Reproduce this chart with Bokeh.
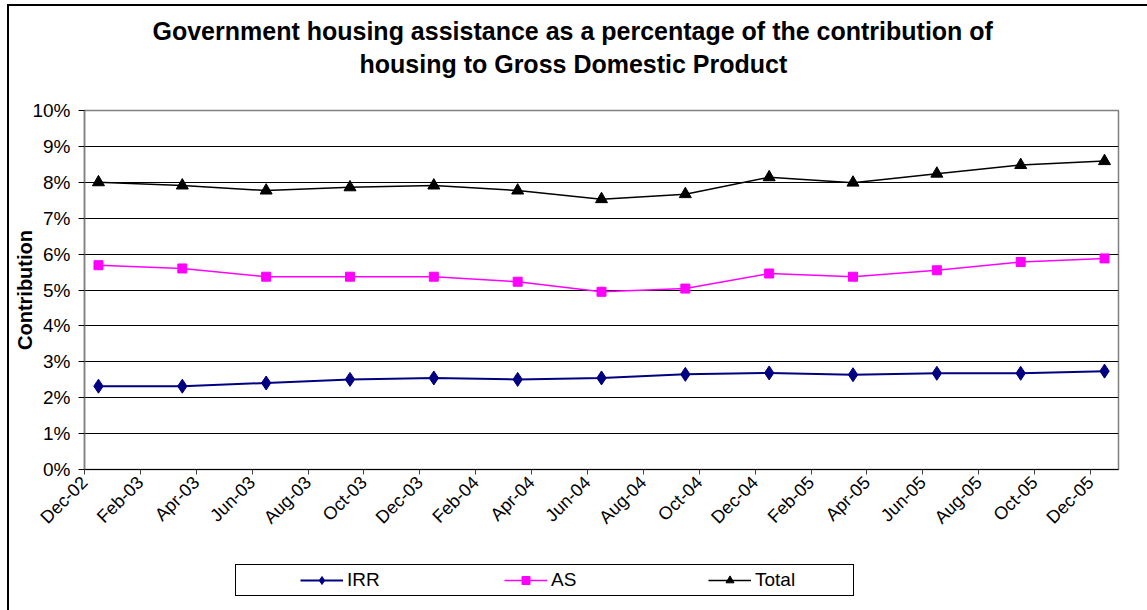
import pandas as pd
from bokeh.plotting import figure
from bokeh.layouts import column, row
from bokeh.models import (Range1d, FixedTicker, NumeralTickFormatter, Title, Legend,
                          LegendItem, Spacer)
from bokeh.embed import file_html
from bokeh.resources import INLINE

# ---------------- data ----------------
quarters = ["Dec-02", "Mar-03", "Jun-03", "Sep-03", "Dec-03", "Mar-04", "Jun-04",
            "Sep-04", "Dec-04", "Mar-05", "Jun-05", "Sep-05", "Dec-05"]
irr = [0.0232, 0.0232, 0.0241, 0.0251, 0.0255, 0.0251, 0.0255, 0.0265, 0.0269,
       0.0264, 0.0268, 0.0268, 0.0274]
as_ = [0.0569, 0.0560, 0.0537, 0.0537, 0.0537, 0.0523, 0.0495, 0.0504, 0.0546,
       0.0537, 0.0555, 0.0578, 0.0588]
total = [0.0800, 0.0791, 0.0777, 0.0786, 0.0791, 0.0777, 0.0753, 0.0767, 0.0814,
         0.0799, 0.0824, 0.0848, 0.0859]
tick_labels = ["Dec-02", "Feb-03", "Apr-03", "Jun-03", "Aug-03", "Oct-03", "Dec-03",
               "Feb-04", "Apr-04", "Jun-04", "Aug-04", "Oct-04", "Dec-04", "Feb-05",
               "Apr-05", "Jun-05", "Aug-05", "Oct-05", "Dec-05"]
y_ticks = [0.00, 0.01, 0.02, 0.03, 0.04, 0.05, 0.06, 0.07, 0.08, 0.09, 0.10]
series_names = ["IRR", "AS", "Total"]

# month-slot axis (Excel date axis with month base unit)
start = pd.to_datetime(quarters[0], format="%b-%y")
def month_index(s):
    d = pd.to_datetime(s, format="%b-%y")
    return (d.year - start.year) * 12 + d.month - start.month

x = [month_index(q) + 0.5 for q in quarters]
tick_pos = [month_index(t) for t in tick_labels]
n_months = month_index(quarters[-1]) + 1

FONT = "Liberation Sans"
C_IRR, C_AS, C_TOT = "#000080", "#FF00FF", "#000000"

p = figure(width=1138, height=554, output_backend="svg", toolbar_location=None,
           x_range=Range1d(0, n_months), y_range=Range1d(0, 0.10),
           min_border_left=75, min_border_right=29, min_border_top=104,
           min_border_bottom=91, background_fill_color="white",
           border_fill_color="white")
p.title = None

# titles: spacer nearest the frame, then line 2, then line 1
spacer = Title(text="\u00a0", text_font_size="1px", standoff=27)
t2 = Title(text="housing to Gross Domestic Product", align="left",
           text_font=FONT, text_font_size="25px", text_font_style="bold",
           text_color="black", offset=275, standoff=6)
t1 = Title(text="Government housing assistance as a percentage of the contribution of",
           align="left", text_font=FONT, text_font_size="25px",
           text_font_style="bold", text_color="black", offset=68, standoff=0)
p.add_layout(spacer, "above")
p.add_layout(t2, "above")
p.add_layout(t1, "above")

p.outline_line_color = "#808080"
p.outline_line_width = 1.5

# axes
p.xaxis.ticker = FixedTicker(ticks=tick_pos)
p.xaxis.major_label_overrides = {tp: lab for tp, lab in zip(tick_pos, tick_labels)}
p.xaxis.major_label_orientation = 0.785398
p.xaxis.major_label_text_font = FONT
p.xaxis.major_label_text_font_size = "18px"
p.xaxis.major_label_text_color = "black"
p.xaxis.minor_tick_line_color = None
p.xaxis.major_tick_in = 0
p.xaxis.major_tick_out = 5
p.xaxis.major_tick_line_color = "#404040"
p.xaxis.axis_line_color = "black"
p.xaxis.major_label_standoff = 5

p.yaxis.ticker = FixedTicker(ticks=y_ticks)
p.yaxis.formatter = NumeralTickFormatter(format="0%")
p.yaxis.major_label_text_font = FONT
p.yaxis.major_label_text_font_size = "19px"
p.yaxis.major_label_text_color = "black"
p.yaxis.minor_tick_line_color = None
p.yaxis.major_tick_in = 0
p.yaxis.major_tick_out = 6
p.yaxis.major_tick_line_color = "black"
p.yaxis.axis_line_color = "#808080"
p.yaxis.axis_line_width = 1.5
p.yaxis.axis_label = "Contribution"
p.yaxis.axis_label_text_font = FONT
p.yaxis.axis_label_text_font_size = "20px"
p.yaxis.axis_label_text_font_style = "bold"
p.yaxis.axis_label_text_color = "black"
p.yaxis.axis_label_standoff = -7
p.yaxis.major_label_standoff = 8

p.xgrid.grid_line_color = None
p.ygrid.grid_line_color = "black"
p.ygrid.grid_line_width = 1
p.ygrid.bounds = (0.005, 0.095)

# series
p.line(x, irr, line_color=C_IRR, line_width=2)
p.scatter(x, irr, marker="diamond", size=14, fill_color=C_IRR, line_color=C_IRR)
p.line(x, as_, line_color=C_AS, line_width=1.5)
p.scatter(x, as_, marker="square", size=9, fill_color=C_AS, line_color=C_AS)
p.line(x, total, line_color=C_TOT, line_width=1.5)
p.scatter(x, total, marker="triangle", size=12, fill_color=C_TOT, line_color=C_TOT)

# legend strip below the chart (proxy renderers lie outside its visible range)
p2 = figure(width=1138, height=50, output_backend="svg", toolbar_location=None,
            x_range=Range1d(-20, -10), y_range=Range1d(-20, -10),
            x_axis_location=None, y_axis_location=None, min_border=0,
            outline_line_color=None, background_fill_color="white",
            border_fill_color="white")
p2.grid.visible = False
lg_irr = [p2.line(x, irr, line_color=C_IRR, line_width=2),
          p2.scatter(x, irr, marker="diamond", size=14, fill_color=C_IRR, line_color=C_IRR)]
lg_as = [p2.line(x, as_, line_color=C_AS, line_width=1.5),
         p2.scatter(x, as_, marker="square", size=9, fill_color=C_AS, line_color=C_AS)]
lg_tot = [p2.line(x, total, line_color=C_TOT, line_width=1.5),
          p2.scatter(x, total, marker="triangle", size=12, fill_color=C_TOT, line_color=C_TOT)]

legend = Legend(items=[
    LegendItem(label=series_names[0], renderers=lg_irr),
    LegendItem(label=series_names[1], renderers=lg_as),
    LegendItem(label=series_names[2], renderers=lg_tot),
], orientation="horizontal", location=(151, 14), padding=4, spacing=63,
    glyph_width=43, glyph_height=20, label_standoff=4, label_width=94,
    title="\u00a0", title_location="left", title_standoff=38,
    title_text_font=FONT, title_text_font_size="19px",
    label_text_font=FONT, label_text_font_size="19px", label_text_color="black",
    border_line_color="black", border_line_width=1.5, border_line_alpha=1,
    background_fill_alpha=1, margin=0)
p2.add_layout(legend, "center")

# outer chart border: left and top edges (right/bottom run off the page)
BLACK = {"background-color": "black"}
chart = column(p, p2, spacing=0)
bordered = column(Spacer(width=1140, height=2, styles=BLACK),
                  row(Spacer(width=2, height=604, styles=BLACK), chart, spacing=0),
                  spacing=0)
layout = column(Spacer(width=1147, height=4),
                row(Spacer(width=7, height=606), bordered, spacing=0),
                spacing=0)

# keep the page from showing a scrollbar
try:
    from bokeh.models import GlobalInlineStyleSheet
    layout.stylesheets = [GlobalInlineStyleSheet(
        css="html, body { overflow: hidden !important; margin: 0; }")]
except ImportError:
    pass

open("out.html", "w").write(file_html(layout, INLINE))
